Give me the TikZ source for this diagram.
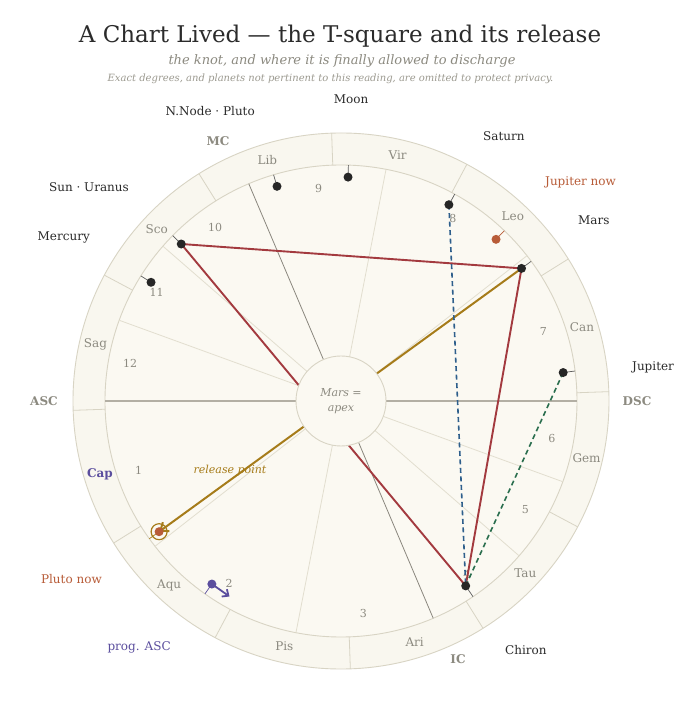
\documentclass[tikz,border=0pt]{standalone}
\usepackage{fontspec}
\setmainfont{DejaVu Serif}
\usetikzlibrary{arrows.meta}
\definecolor{ink}{HTML}{2B2B2B}
\definecolor{muted}{HTML}{8C8A80}
\definecolor{faint}{HTML}{9C9A90}
\definecolor{ringline}{HTML}{D8D4C4}
\definecolor{cuspc}{HTML}{E2DECF}
\definecolor{ringfill}{HTML}{F9F7EF}
\definecolor{innerfill}{HTML}{FBF9F2}
\definecolor{axisc}{HTML}{B3AFA4}
\definecolor{mcc}{HTML}{8A877E}
\definecolor{redasp}{HTML}{A33A3F}
\definecolor{goldc}{HTML}{A67C1A}
\definecolor{bluedash}{HTML}{2E5F8C}
\definecolor{greendash}{HTML}{2A6E4E}
\definecolor{nowc}{HTML}{B85C38}
\definecolor{progc}{HTML}{5B4E9E}
\definecolor{dotc}{HTML}{262626}
\begin{document}
\begin{tikzpicture}[x=1pt,y=1pt,
  lab/.style={inner sep=0pt, text=ink, font=\fontsize{12}{14}\selectfont},
  signlab/.style={inner sep=0pt, text=muted, font=\fontsize{12}{14}\selectfont},
  houselab/.style={inner sep=0pt, text=muted, font=\fontsize{11}{13}\selectfont},
  axislab/.style={inner sep=0pt, text=muted, font=\fontsize{12}{14}\selectfont\bfseries},
  planet/.style={circle, fill=dotc, inner sep=0pt, minimum size=9pt},
  tickp/.style={draw=dotc!75, line width=0.7pt},
  cusp/.style={draw=cuspc, line width=0.8pt},
  aspect/.style={line width=1.9pt, line cap=round},
  dashasp/.style={line width=1.6pt, dash pattern=on 5pt off 3.5pt},
]
\path[use as bounding box, fill=white] (-341,-310) rectangle (343,401);

% titles
\node[inner sep=0pt, text=ink, font=\fontsize{23}{27}\selectfont] (title) at (-1,365) {A Chart Lived — the T-square and its release};
\node[inner sep=0pt, text=muted, font=\fontsize{13}{15}\selectfont\itshape] (subtitle) at (1,340) {the knot, and where it is finally allowed to discharge};
\node[inner sep=0pt, text=faint, font=\fontsize{10}{12}\selectfont\itshape] (note) at (-10.5,322) {Exact degrees, and planets not pertinent to this reading, are omitted to protect privacy.};

% wheel
\fill[ringfill] (0,0) circle (268);
\draw[ringline, line width=0.9pt] (0,0) circle (268);
\fill[innerfill] (0,0) circle (236);
\draw[ringline, line width=0.9pt] (0,0) circle (236);
\foreach \a in {2,32,...,332} \draw[ringline, line width=0.8pt] (\a:236) -- (\a:268);

% signs
\foreach \a/\s in {17/Can,47/Leo,77/Vir,107/Lib,137/Sco,167/Sag,227/Aqu,257/Pis,287/Ari,317/Tau,347/Gem}
  \node[signlab] (sign-\s) at (\a:252) {\s};
\node[signlab, text=progc, font=\fontsize{12}{14}\selectfont\bfseries] (sign-Cap) at (197:252) {Cap};

% cusps
\foreach \a in {218,259,319,340,38,79,139,160} \draw[cusp] (\a:45) -- (\a:236);
\draw[axisc, line width=1.6pt] (180:45) -- (180:236);
\draw[axisc, line width=1.6pt] (0:45) -- (0:236);
\draw[mcc, line width=0.8pt] (113:45) -- (113:236);
\draw[mcc, line width=0.8pt] (293:45) -- (293:236);

% house numbers
\foreach \a/\h in {199/1,238.5/2,276/3,306/4,329.5/5,350/6,19/7,58.5/8,96/9,126/10,149.5/11,170/12}
  \node[houselab] (house-\h) at (\a:214) {\h};

% planet positions
\coordinate (pSunU) at (135.5:224);
\coordinate (pMerc) at (148:224);
\coordinate (pNNP) at (106.6:224);
\coordinate (pMoon) at (88.2:224);
\coordinate (pSat) at (61.2:224);
\coordinate (pJupNow) at (46.2:224);
\coordinate (pMars) at (36.3:224);
\coordinate (pJup) at (7.3:224);
\coordinate (pChiron) at (304:223);
\coordinate (pPluto) at (215.7:224);
\coordinate (pProg) at (234.8:224);
\coordinate (pProgTip) at (-111.5,-195.5);

% release label
\node[inner sep=0pt, text=goldc, font=\fontsize{11}{13}\selectfont\itshape] (release) at (-111,-69) {release point};

% aspects
\draw[aspect, redasp] (pSunU) -- (pMars);
\draw[aspect, redasp] (pSunU) -- (pChiron);
\draw[aspect, redasp] (pMars) -- (pChiron);
\draw[goldc, line width=2pt, -{Straight Barb[length=7pt,width=11pt]}] (pMars) -- (pPluto);
\draw[dashasp, bluedash] (pSat) -- (pChiron);
\draw[dashasp, greendash] (pJup) -- (pChiron);

% centre
\node[circle, draw=ringline, fill=innerfill, minimum size=90pt, inner sep=0pt, line width=0.9pt] (apex) at (0,0) {};
\node[inner sep=0pt, text=muted, font=\fontsize{11}{15}\selectfont\itshape, align=center] (apextext) at (0,0) {Mars =\\apex};

% ticks
\foreach \a in {135.5,148,106.6,88.2,61.2,36.3,7.3,304} \draw[tickp] (\a:236) -- (\a:224);
\draw[nowc, line width=0.7pt] (46.2:236) -- (46.2:224);
\draw[goldc, line width=0.7pt] (215.7:236) -- (215.7:224);
\draw[progc, line width=0.7pt] (234.8:236) -- (234.8:224);

% dots
\node[planet] (sunu) at (pSunU) {};
\node[planet] (merc) at (pMerc) {};
\node[planet] (nnp) at (pNNP) {};
\node[planet] (moon) at (pMoon) {};
\node[planet] (sat) at (pSat) {};
\node[planet, fill=nowc] (jupnow) at (pJupNow) {};
\node[planet] (mars) at (pMars) {};
\node[planet] (jup) at (pJup) {};
\node[planet] (chiron) at (pChiron) {};
\draw[goldc, line width=1.2pt] (pPluto) circle (8);
\node[planet, fill=nowc] (plutonow) at (pPluto) {};
\draw[progc, line width=1.8pt, -{Straight Barb[length=5pt,width=9pt]}] (pProg) -- (pProgTip);
\node[planet, fill=progc] (progasc) at (pProg) {};

% axis labels
\node[axislab] (asc) at (-297,0) {ASC};
\node[axislab] (dsc) at (296,0) {DSC};
\node[axislab] (mc) at (-123,260) {MC};
\node[axislab] (ic) at (117,-258) {IC};

% planet labels
\node[lab, anchor=east] (l-nnp) at (-86,290) {N.Node · Pluto};
\node[lab] (l-moon) at (10,302) {Moon};
\node[lab, anchor=west] (l-sat) at (142,265) {Saturn};
\node[lab, anchor=west, text=nowc] (l-jupnow) at (204,219) {Jupiter now};
\node[lab, anchor=west] (l-mars) at (237,181) {Mars};
\node[lab, anchor=west] (l-jup) at (291,34) {Jupiter};
\node[lab, anchor=east] (l-sunu) at (-212,214) {Sun · Uranus};
\node[lab, anchor=east] (l-merc) at (-251,164) {Mercury};
\node[lab, anchor=east, text=nowc] (l-plutonow) at (-239,-178) {Pluto now};
\node[lab, anchor=east, text=progc] (l-prog) at (-170,-246) {prog. ASC};
\node[lab, anchor=west] (l-chiron) at (164,-249) {Chiron};
\end{tikzpicture}
\end{document}
